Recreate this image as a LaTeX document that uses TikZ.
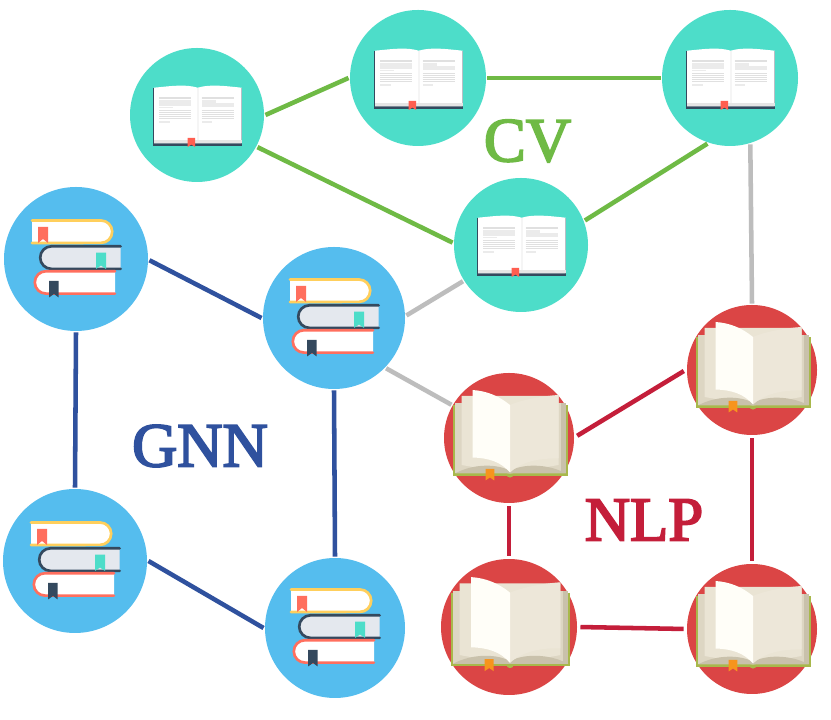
\documentclass[tikz,border=0pt]{standalone}
\usepackage{fontspec}
\setmainfont{Liberation Serif}
\newfontfamily\fieldfont[FakeBold=3]{Liberation Serif}
\definecolor{tealdisc}{HTML}{4DDDC9}
\definecolor{bluedisc}{HTML}{55BDEE}
\definecolor{reddisc}{HTML}{DB4545}
\definecolor{cvgreen}{HTML}{6FBA45}
\definecolor{gnnblue}{HTML}{2F519E}
\definecolor{nlpred}{HTML}{C41E3A}
\definecolor{linkgray}{HTML}{BDBDBD}
\definecolor{navy}{HTML}{34495E}
\definecolor{coral}{HTML}{FF6F5E}
\definecolor{sun}{HTML}{FFCF5C}
\definecolor{mist}{HTML}{E4E8EE}
\definecolor{leaf}{HTML}{A8B84B}
\definecolor{pagefar}{HTML}{DDD6C3}
\definecolor{pagemid}{HTML}{EAE4D4}
\definecolor{pageshade}{HTML}{C9C1AB}
\definecolor{pagecream}{HTML}{EDE7D9}
\definecolor{pagewhite}{HTML}{FFFEF8}
\definecolor{ribbon}{HTML}{F7941D}
\tikzset{
  disc/.style={circle,draw=none,inner sep=0pt,outer sep=1.1pt,minimum size=#1*0.75pt},
  cvlink/.style={draw=cvgreen,line width=3.4pt},
  gnnlink/.style={draw=gnnblue,line width=3.4pt},
  nlplink/.style={draw=nlpred,line width=3.4pt,shorten <=1.5pt,shorten >=1.5pt},
  crosslink/.style={draw=linkgray,line width=3.4pt},
  fieldname/.style={inner sep=0pt,font=\fieldfont\fontsize{47}{47}\selectfont},
  textline/.style={draw=black!12,line width=0.75pt},
  % flat open book with a ribbon, seen from above
  openbook/.pic={
    \fill[navy] (-44,27) rectangle (45,-31);
    \fill[white] (-43,27.3) .. controls (-25,29) and (-12,31) .. (0.7,27.3)
      .. controls (13,31) and (28,29) .. (44.5,27.3) -- (44.5,-28.3) -- (-43,-28.3) -- cycle;
    \fill[black!10] (-43,-25) rectangle (44.5,-28.3);
    \fill[black!4] (0,27) rectangle (1.6,-25);
    \foreach \y in {17.7,16,4,2,0,-2,-4} {
      \draw[textline] (-38,\y) -- (-6,\y);
      \draw[textline] (4.7,\y) -- (37,\y);
    }
    \fill[black!8] (-38,15) rectangle (-6,9.3);
    \fill[black!8] (4.7,15) rectangle (19,7.5);
    \fill[black!8] (19,11.5) rectangle (37,8);
    \fill[black!8] (-38,8) rectangle (-24.3,6.5);
    \fill[black!8] (-38,-6) rectangle (-27,-8);
    \fill[black!8] (4.7,-6) rectangle (15,-8);
    \fill[coral!85!red] (-9.3,-23) -- (-2,-23) -- (-2,-32) -- (-5.6,-29.5) -- (-9.3,-32) -- cycle;
  },
  % three stacked closed books
  bookstack/.pic={
    % top volume
    \fill[white] (-44,38.5) -- (25,38.5) arc (90:-90:11.2) -- (-44,16) -- cycle;
    \draw[sun,line width=2pt,line cap=round] (-44,38.5) -- (25,38.5) arc (90:-90:11.2) -- (-44,16);
    \fill[coral] (-38,32) -- (-28,32) -- (-28,16) -- (-33,20) -- (-38,16) -- cycle;
    % middle volume
    \fill[mist] (44.7,12.7) -- (-24.5,12.7) arc (90:270:11.3) -- (44.7,-9.9) -- cycle;
    \draw[navy,line width=2pt,line cap=round] (44.7,12.7) -- (-24.5,12.7) arc (90:270:11.3) -- (44.7,-9.9);
    \fill[tealdisc] (20,6.3) -- (30,6.3) -- (30,-10) -- (25,-6.5) -- (20,-10) -- cycle;
    % bottom volume
    \fill[white] (39,-12.2) -- (-30,-12.2) arc (90:270:11.2) -- (39,-34.6) -- cycle;
    \draw[coral,line width=2pt,line cap=round] (39,-12.2) -- (-30,-12.2) arc (90:270:11.2) -- (39,-34.6);
    \fill[navy] (-27,-22) -- (-17.3,-22) -- (-17.3,-38.5) -- (-22,-35) -- (-27,-38.5) -- cycle;
  },
  % thick book lying open, pages curling up from the gutter
  thickbook/.pic={
    \fill[leaf] (-55.7,33) rectangle (59,-37.7);
    \fill[leaf] (1,-36) circle (3.6);
    \fill[pagefar] (-54,34.7) -- (57,34.7) -- (57,-35.5) -- (-54,-35.5) -- cycle;
    \fill[pageshade] (52,34.7) rectangle (57,-35.5);
    \fill[pagemid] (-47.5,42) -- (49.5,42) -- (49.5,-27) -- (1,-35.5) -- (-47.5,-27) -- cycle;
    \fill[pageshade] (-54,-35.5) .. controls (-35,-25) and (-10,-26) .. (1,-33)
      .. controls (12,-26) and (38,-25) .. (57,-35.5) -- cycle;
    \fill[pagecream] (1,33) .. controls (15,39) and (35,42) .. (49.5,43)
      -- (49.5,-20.5) .. controls (30,-20) and (12,-24) .. (1,-34.5) -- cycle;
    \fill[pagewhite] (1,33) .. controls (-10,42) and (-22,47) .. (-36.5,48)
      -- (-36.5,-19.5) .. controls (-20,-20) and (-8,-24) .. (1,-34.5) -- cycle;
    \fill[ribbon] (-23.5,-31) -- (-14.7,-31) -- (-14.7,-42.5) -- (-19,-39.5) -- (-23.5,-42.5) -- cycle;
  }
}
\begin{document}
\begin{tikzpicture}[x=0.75pt,y=0.75pt]
\useasboundingbox (0,0) rectangle (831,720);
\fill[white] (0,0) rectangle (831,720);

% computer vision cluster
\node[disc=134,fill=tealdisc] (cva) at (197,605) {};
\node[disc=136,fill=tealdisc] (cvb) at (418,642) {};
\node[disc=136,fill=tealdisc] (cvc) at (730,642) {};
\node[disc=134,fill=tealdisc] (cvd) at (521,475) {};
\pic at (cva) {openbook};
\pic at (cvb) {openbook};
\pic at (cvc) {openbook};
\pic at (cvd) {openbook};

% graph neural network cluster
\node[disc=144,fill=bluedisc] (gnna) at (76,461) {};
\node[disc=142,fill=bluedisc] (gnnb) at (334,402) {};
\node[disc=144,fill=bluedisc] (gnnc) at (75,159) {};
\node[disc=140,fill=bluedisc] (gnnd) at (335,92) {};
\pic at (gnna) {bookstack};
\pic at (gnnb) {bookstack};
\pic at (gnnc) {bookstack};
\pic at (gnnd) {bookstack};

% natural language processing cluster
\node[disc=130,fill=reddisc] (nlpa) at (509,282) {};
\node[disc=130,fill=reddisc] (nlpb) at (752,350) {};
\node[disc=136,fill=reddisc] (nlpc) at (509,93) {};
\node[disc=130,fill=reddisc] (nlpd) at (752,91) {};
\pic at (nlpa) {thickbook};
\pic at (nlpb) {thickbook};
\pic[scale=1.04] at (nlpc) {thickbook};
\pic at (nlpd) {thickbook};

% links inside each cluster
\draw[cvlink] (cva.0) -- (cvb.180);
\draw[cvlink] (cva.-28) -- (cvd.178);
\draw[cvlink] (cvb.0) -- (cvc.180);
\draw[cvlink] (cvc.-109) -- (cvd.21);
\draw[gnnlink] (gnna.-1) -- (gnnb.180);
\draw[gnnlink] (gnna.-90) -- (gnnc.90);
\draw[gnnlink] (gnnb.-90) -- (gnnd.90);
\draw[gnnlink] (gnnc.0) -- (gnnd.180);
\draw[nlplink] (nlpa.1) -- (nlpb.180);
\draw[nlplink] (nlpa.-90) -- (nlpc.90);
\draw[nlplink] (nlpb.-90) -- (nlpd.90);
\draw[nlplink] (nlpc.0) -- (nlpd.180);

% links between clusters
\draw[crosslink] (cvc.-73) -- (nlpb.90);
\draw[crosslink] (cvd.212) -- (gnnb.2);
\draw[crosslink] (gnnb.-44) -- (nlpa.150);

% cluster names
\node[fieldname,text=cvgreen] (cvname) at (527.5,579) {CV};
\node[fieldname,text=gnnblue] (gnnname) at (200,274) {GNN};
\node[fieldname,text=nlpred] (nlpname) at (644,200) {NLP};
\end{tikzpicture}
\end{document}
